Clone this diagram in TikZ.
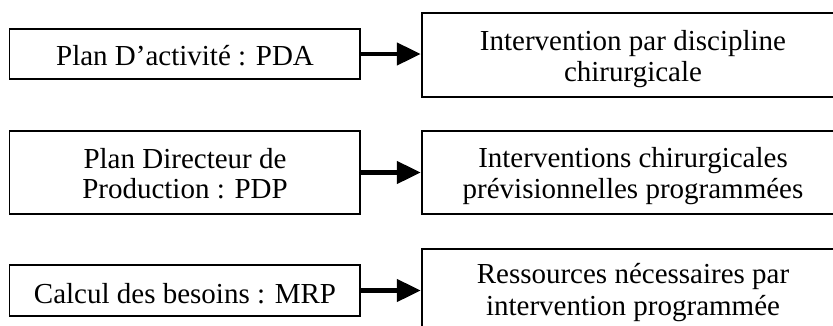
\documentclass[tikz,border=0pt]{standalone}
\usepackage{fontspec}
\setmainfont{Liberation Serif}
\usetikzlibrary{arrows.meta}
\begin{document}
\begin{tikzpicture}[x=1pt,y=-1pt,
  box/.style={draw=black,line width=1.8pt,fill=none,inner sep=0pt},
  txt/.style={anchor=base,inner sep=0pt,font=\fontsize{29}{32}\selectfont},
  arr/.style={line width=4.5pt,-{Triangle[length=24pt,width=22pt]},shorten <=-0.5pt}]
\useasboundingbox (0,0) rectangle (833,325);
% left boxes
\node[box,minimum width=350.5pt,minimum height=50pt] (l1) at (184.75,54) {};
\node[box,minimum width=350.5pt,minimum height=83pt] (l2) at (184.75,172.5) {};
\node[box,minimum width=350.5pt,minimum height=51pt] (l3) at (184.75,290.5) {};
% right boxes
\node[box,minimum width=422.3pt,minimum height=84pt] (r1) at (632.85,55) {};
\node[box,minimum width=422.3pt,minimum height=83pt] (r2) at (632.85,172.5) {};
\node[box,minimum width=422.3pt,minimum height=82pt] (r3) at (632.85,290) {};
% texts
\node[txt] (t1) at (185,65) {Plan D’activité : PDA};
\node[txt] (t2a) at (185,168) {Plan Directeur de};
\node[txt] (t2b) at (185,198.5) {Production : PDP};
\node[txt] (t3) at (185,303) {Calcul des besoins : MRP};
\node[txt] (u1a) at (633,50) {Intervention par discipline};
\node[txt] (u1b) at (633,81) {chirurgicale};
\node[txt] (u2a) at (633,167.5) {Interventions chirurgicales};
\node[txt] (u2b) at (633,198.5) {prévisionnelles programmées};
\node[txt] (u3a) at (633,283.5) {Ressources nécessaires par};
\node[txt] (u3b) at (633,315) {intervention programmée};
% arrows
\draw[arr] (l1.east) -- (r1.west |- l1.east);
\draw[arr] (l2.east) -- (r2.west);
\draw[arr] (l3.east) -- (r3.west |- l3.east);
\end{tikzpicture}
\end{document}
